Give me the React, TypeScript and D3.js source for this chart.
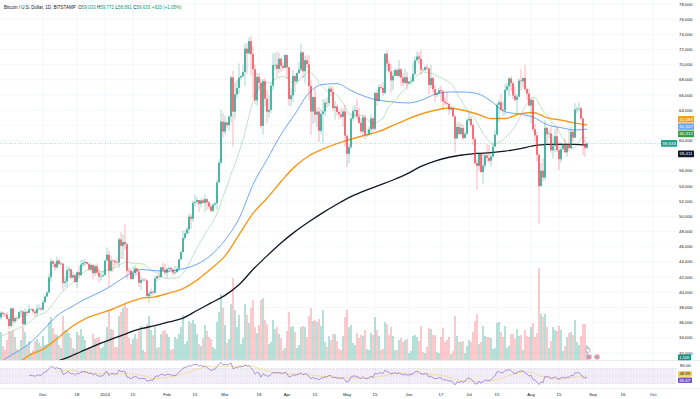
import * as d3 from 'd3';

const PANE_RIGHT = 676;
const PRICE_BOTTOM = 360;
const RSI_TOP = 361;
const RSI_BOTTOM = 388;
const UP = '#089981';
const DOWN = '#f23645';

// daily candles, BITSTAMP BTC/USD, 2023-11-10 .. 2024-08-29
const firstDay = '2023-11-10';

const opens = [
  // Nov
  36690, 37310, 37130, 37060, 36480, 35550, 37880, 36160, 36590, 36580, 37380, 37470, 35810, 37420, 37290, 37720, 37800, 37480, 37250, 37830, 37860,
  // Dec
  37720, 38690, 39460, 39970, 41990, 44080, 43760, 43290, 44170, 43720, 43790, 41240, 41450, 42890, 43020, 41940, 42260, 41360, 42650, 42270, 43660, 43860, 43990, 43740, 43020, 43610, 42520, 43440, 42580, 42070, 42140,
  // Jan
  42280, 44180, 44950, 42840, 44180, 44160, 43970, 43930, 46970, 46120, 46630, 46340, 42850, 42840, 41730, 42510, 43150, 42740, 41260, 41620, 41660, 41580, 39510, 39840, 40080, 39940, 41820, 42120, 42030, 43300, 42940,
  // Feb
  42580, 43080, 43190, 43000, 42580, 42660, 43090, 44330, 45300, 47150, 47770, 48290, 49960, 49700, 51800, 51910, 52160, 51660, 52120, 51780, 52280, 51850, 51300, 50740, 51570, 51730, 54480, 57080, 62500,
  // Mar
  61180, 62410, 62030, 63170, 68330, 63800, 66100, 66930, 68300, 68500, 69020, 72120, 71480, 73100, 71390, 69400, 65300, 68390, 67600, 61930, 67840, 65500, 63800, 64040, 67230, 69960, 69990, 69450, 70780, 69850, 69580,
  // Apr
  71280, 69650, 65470, 65960, 68510, 67840, 68900, 69360, 71620, 69140, 70590, 70060, 67190, 63820, 65740, 63420, 63810, 61280, 63510, 63840, 64990, 64940, 66840, 66410, 64280, 64500, 63770, 63460, 63120, 63840,
  // May
  60640, 58250, 59120, 62890, 63890, 64030, 63160, 62330, 61190, 63050, 60790, 60820, 61480, 62920, 61550, 66270, 65230, 67050, 66940, 66280, 71450, 70140, 69120, 67930, 68540, 69290, 68510, 69390, 68300, 67610, 68350,
  // Jun
  67520, 67760, 67820, 68800, 70570, 71080, 70760, 69340, 69310, 69650, 69510, 67320, 68240, 66760, 66010, 66190, 66640, 66490, 65150, 64960, 64830, 64100, 64250, 63180, 60280, 61800, 60860, 61670, 60320, 60890,
  // Jul
  62680, 62850, 62030, 60200, 57040, 56660, 58230, 55850, 56700, 58040, 57720, 57340, 57890, 59200, 60790, 64720, 65040, 64090, 63990, 66680, 67150, 68190, 67550, 65930, 65370, 65780, 67910, 67810, 68250, 66780, 66190,
  // Aug
  64620, 65350, 61500, 60680, 58120, 53990, 56030, 55120, 61680, 60840, 60920, 58710, 59330, 60580, 58740, 57540, 58870, 59480, 58450, 59500, 59010, 61160, 60380, 64090, 64180, 64250, 62880, 59500, 59033,
];

const highs = [
  37530, 37410, 37220, 37420, 36760, 37980, 37930, 36840, 36850, 37520, 37760, 37650, 37860, 37650, 38420, 37890, 37830, 37590, 38390, 38420, 38150,
  38960, 39680, 40200, 42420, 44440, 44300, 44050, 44700, 44370, 44040, 43800, 42090, 43430, 43400, 43080, 42720, 42430, 42750, 43480, 44260, 44290, 44380, 44040, 43940, 43800, 43650, 43680, 43800, 43140, 42600, 42880,
  44200, 45900, 45500, 44770, 44350, 44240, 44480, 47230, 47900, 47650, 48970, 46500, 43250, 43080, 43390, 43580, 43200, 42930, 42180, 41870, 41880, 41680, 40120, 40530, 40270, 42200, 42200, 42800, 43320, 43880, 43740,
  43290, 43470, 43380, 43120, 43500, 43410, 44380, 45600, 48170, 48150, 48570, 50350, 50360, 52080, 52820, 52570, 52200, 52370, 52480, 52980, 52370, 52000, 51550, 51690, 51950, 54900, 57550, 64000, 63650,
  63200, 62420, 63230, 68550, 69200, 67650, 67990, 70170, 68620, 70000, 72800, 72900, 73620, 73750, 72430, 70000, 68880, 68930, 68100, 68100, 68200, 66600, 65950, 67600, 71500, 71560, 71720, 71550, 70920, 70340, 71340,
  71290, 69700, 66900, 69290, 68720, 69000, 70320, 72730, 71750, 71170, 71260, 71220, 67930, 65840, 66880, 64360, 64480, 64130, 65400, 65440, 65690, 67220, 67200, 67080, 65250, 64790, 63920, 64330, 64200, 64720,
  60800, 59600, 63320, 64500, 64650, 65500, 64400, 62990, 63400, 63450, 61480, 61820, 63450, 63100, 66450, 66700, 67420, 67430, 67700, 71500, 71950, 70610, 70080, 69240, 69550, 69540, 70600, 69540, 68880, 69480, 69000,
  67840, 68400, 70280, 71050, 71750, 71650, 71950, 69520, 69890, 70150, 69560, 69990, 68450, 67300, 66400, 66990, 67200, 66600, 65700, 66450, 65050, 64520, 64500, 63350, 62350, 62440, 62280, 62180, 61200, 63000,
  63800, 63250, 62280, 60500, 57500, 58480, 58370, 58240, 58300, 59480, 59420, 58560, 59860, 61400, 64900, 65360, 66100, 65150, 67450, 67600, 68350, 68480, 67800, 67100, 66150, 68200, 69400, 68300, 70000, 66980, 66830,
  65600, 65600, 62200, 61100, 58300, 57040, 57700, 62730, 61800, 61450, 61850, 60700, 61550, 61780, 59850, 59800, 59650, 60250, 59600, 61400, 61800, 61400, 64950, 64500, 65000, 64500, 63200, 60250, 59772,
];

const lows = [
  36340, 36720, 36750, 36330, 35100, 35370, 35650, 35900, 36200, 36400, 36740, 35630, 35660, 36880, 37250, 37610, 37150, 36730, 36880, 37600, 37510,
  37630, 38650, 39280, 39900, 41400, 43340, 42850, 43100, 43600, 43570, 40220, 40680, 40600, 41820, 41670, 41690, 41260, 40530, 41850, 42200, 43320, 43420, 43600, 42780, 42750, 41680, 42110, 42320, 41320, 41550, 41970,
  42200, 44160, 40760, 42640, 42650, 43400, 43590, 43200, 44400, 44400, 45600, 41750, 42440, 41720, 41720, 42080, 42200, 40700, 40270, 41450, 41500, 39440, 38540, 39480, 39550, 39830, 41400, 41640, 41800, 42690, 42300,
  41880, 42600, 42880, 42230, 42270, 42580, 42780, 44300, 45250, 46850, 47700, 47700, 48370, 49300, 51330, 51630, 50620, 51180, 51710, 50600, 50850, 50970, 50560, 50580, 51300, 50900, 54450, 56700, 60400,
  60780, 61600, 61350, 62380, 59200, 62800, 65600, 66180, 67980, 68250, 67200, 68800, 71340, 68600, 65630, 64800, 64600, 66640, 61600, 60780, 64550, 62270, 63000, 63600, 66600, 69260, 68350, 68900, 69050, 69350, 69550,
  68150, 64550, 64500, 65080, 66400, 67450, 68800, 69060, 68250, 67520, 69600, 65280, 60800, 62180, 62330, 61720, 59760, 60830, 59600, 63200, 64280, 64500, 65880, 63870, 62780, 63350, 62800, 62800, 61800, 59180,
  56500, 56950, 58800, 62600, 62990, 62750, 62200, 60900, 60650, 60200, 60480, 60630, 60800, 61150, 61350, 64600, 65120, 66620, 65860, 66080, 69180, 68870, 66300, 66650, 68520, 68450, 68250, 67200, 67150, 67400, 66700,
  67450, 67330, 67650, 68580, 70400, 70140, 68600, 69220, 69140, 69230, 66100, 66900, 66300, 65080, 65700, 66080, 65150, 64070, 64700, 64500, 63400, 63940, 63150, 58400, 60250, 60700, 60650, 60080, 60300, 60710,
  62450, 61780, 59430, 56780, 53500, 56040, 55780, 54300, 56320, 57210, 57050, 56600, 57760, 59100, 60650, 62400, 63900, 63250, 63300, 66480, 65800, 66550, 65450, 65130, 63460, 65730, 66650, 67020, 66500, 65300, 64520,
  62300, 61200, 59850, 57200, 49050, 53950, 54600, 54750, 59600, 60270, 58400, 57650, 58500, 58450, 56100, 57100, 58780, 58400, 57860, 58600, 58850, 59800, 60350, 63600, 63800, 62800, 58100, 57860, 58891,
];

const closes = [
  37310, 37130, 37060, 36480, 35550, 37880, 36160, 36590, 36580, 37380, 37470, 35810, 37420, 37290, 37720, 37800, 37480, 37250, 37830, 37860, 37720,
  38690, 39460, 39970, 41990, 44080, 43760, 43290, 44170, 43720, 43790, 41240, 41450, 42890, 43020, 41940, 42260, 41360, 42650, 42270, 43660, 43860, 43990, 43740, 43020, 43610, 42520, 43440, 42580, 42070, 42140, 42280,
  44180, 44950, 42840, 44180, 44160, 43970, 43930, 46970, 46120, 46630, 46340, 42850, 42840, 41730, 42510, 43150, 42740, 41260, 41620, 41660, 41580, 39510, 39840, 40080, 39940, 41820, 42120, 42030, 43300, 42940, 42580,
  43080, 43190, 43000, 42580, 42660, 43090, 44330, 45300, 47150, 47770, 48290, 49960, 49700, 51800, 51910, 52160, 51660, 52120, 51780, 52280, 51850, 51300, 50740, 51570, 51730, 54480, 57080, 62500, 61180,
  62410, 62030, 63170, 68330, 63800, 66100, 66930, 68300, 68500, 69020, 72120, 71480, 73100, 71390, 69400, 65300, 68390, 67600, 61930, 67840, 65500, 63800, 64040, 67230, 69960, 69990, 69450, 70780, 69850, 69580, 71280,
  69650, 65470, 65960, 68510, 67840, 68900, 69360, 71620, 69140, 70590, 70060, 67190, 63820, 65740, 63420, 63810, 61280, 63510, 63840, 64990, 64940, 66840, 66410, 64280, 64500, 63770, 63460, 63120, 63840, 60640,
  58250, 59120, 62890, 63890, 64030, 63160, 62330, 61190, 63050, 60790, 60820, 61480, 62920, 61550, 66270, 65230, 67050, 66940, 66280, 71450, 70140, 69120, 67930, 68540, 69290, 68510, 69390, 68300, 67610, 68350, 67520,
  67760, 67820, 68800, 70570, 71080, 70760, 69340, 69310, 69650, 69510, 67320, 68240, 66760, 66010, 66190, 66640, 66490, 65150, 64960, 64830, 64100, 64250, 63180, 60280, 61800, 60860, 61670, 60320, 60890, 62680,
  62850, 62030, 60200, 57040, 56660, 58230, 55850, 56700, 58040, 57720, 57340, 57890, 59200, 60790, 64720, 65040, 64090, 63990, 66680, 67150, 68190, 67550, 65930, 65370, 65780, 67910, 67810, 68250, 66780, 66190, 64620,
  65350, 61500, 60680, 58120, 53990, 56030, 55120, 61680, 60840, 60920, 58710, 59330, 60580, 58740, 57540, 58870, 59480, 58450, 59500, 59010, 61160, 60380, 64090, 64180, 64250, 62880, 59500, 59033, 59633,
];

const volumes = [
  2800, 1400, 1000, 2000, 2900, 2800, 3000, 2300, 1100, 1000, 2000, 3300, 2800, 1500, 1900, 700, 1000, 1900, 2100, 1700, 1400,
  2400, 1500, 1600, 3800, 4300, 3200, 2600, 2500, 1500, 1200, 4400, 3000, 3000, 2700, 2200, 1200, 1100, 2800, 2500, 3100, 2400, 2000, 1100, 1300, 1200, 2600, 2100, 2200, 2300, 1200, 1300,
  1800, 3300, 5000, 3100, 3000, 1300, 1300, 4400, 4800, 5200, 5600, 5200, 2200, 1600, 2100, 2600, 2100, 3000, 3400, 1000, 800, 3600, 4400, 3000, 2500, 3300, 1200, 1300, 2600, 2900, 3000,
  2600, 2300, 1000, 1100, 2300, 2100, 2600, 3300, 4500, 1600, 1900, 3900, 3700, 4000, 3600, 2600, 1600, 1400, 2200, 3500, 2900, 2300, 2100, 1300, 1100, 3800, 4800, 6600, 5200,
  3500, 1700, 2100, 5600, 8200, 5000, 3300, 4500, 1600, 2200, 5600, 4500, 3700, 5200, 6000, 3300, 2700, 3500, 6000, 6200, 4000, 3600, 1600, 1800, 4000, 3100, 3300, 2600, 2200, 1000, 1200,
  2900, 4800, 3300, 3400, 2800, 1200, 1500, 3300, 3400, 3300, 2300, 4400, 5200, 3900, 4000, 3800, 4100, 3400, 5000, 1800, 1300, 2400, 2000, 2600, 2600, 1900, 1100, 1000, 2400, 4300,
  5000, 3300, 3500, 1700, 1500, 2700, 2200, 2500, 2400, 3000, 1100, 1000, 2700, 2500, 4300, 3000, 2400, 1000, 1100, 3800, 3600, 2500, 3300, 2400, 1000, 1000, 2000, 2200, 1800, 2000, 2100,
  700, 900, 2400, 2500, 2300, 1900, 3400, 800, 700, 1300, 3200, 3100, 2500, 2500, 800, 700, 2300, 3200, 1800, 2000, 2300, 600, 900, 4400, 2400, 1800, 1800, 1900, 700, 1400,
  2000, 1800, 2800, 3900, 4600, 1600, 1800, 3400, 2400, 2300, 2300, 2200, 1100, 1200, 3700, 3800, 2800, 2300, 3400, 1200, 1400, 2600, 2600, 2100, 3100, 2400, 2500, 1000, 3000, 2400, 2300,
  3300, 3700, 2300, 2700, 9200, 4600, 4300, 4600, 3300, 1200, 1900, 3300, 3000, 2900, 3400, 3000, 900, 1400, 2300, 2700, 2800, 2500, 4000, 1800, 1500, 2400, 3600, 3600, 1500,
];

// moving averages, weekly
const maDates = [
  '2023-11-10', '2023-11-17', '2023-11-24', '2023-12-01', '2023-12-08', '2023-12-15', '2023-12-22', '2023-12-29',
  '2024-01-05', '2024-01-12', '2024-01-19', '2024-01-26', '2024-02-02', '2024-02-09', '2024-02-16', '2024-02-23',
  '2024-03-01', '2024-03-08', '2024-03-15', '2024-03-22', '2024-03-29', '2024-04-05', '2024-04-12', '2024-04-19',
  '2024-04-26', '2024-05-03', '2024-05-10', '2024-05-17', '2024-05-24', '2024-05-31', '2024-06-07', '2024-06-14',
  '2024-06-21', '2024-06-28', '2024-07-05', '2024-07-12', '2024-07-19', '2024-07-26', '2024-08-02', '2024-08-09',
  '2024-08-16', '2024-08-23', '2024-08-29',
];
const ma50 = [
  30900, 32000, 33200, 35000, 36900, 38050, 39100, 39950, 41000, 42200, 43000, 42850, 42800, 43100, 43700, 44900,
  46900, 49700, 54200, 57500, 60800, 63500, 66300, 67400, 67500, 66600, 65800, 65300, 65100, 64950, 65300, 66100,
  66400, 66400, 66200, 65200, 63800, 63500, 63100, 62100, 61700, 61400, 61507,
];
const ma100 = [
  29300, 30300, 31700, 32500, 33900, 35400, 36500, 37200, 37800, 38600, 39200, 39400, 39900, 40500, 41600, 43100,
  44800, 47600, 50400, 52400, 54600, 56600, 58000, 58900, 59600, 60200, 60700, 61200, 62000, 62800, 63500, 64000,
  64300, 64000, 63500, 62900, 62900, 63500, 63700, 63000, 62700, 62300, 62089,
];
const ma200 = [
  null, null, null, null, 30900, 31600, 32400, 33200, 33900, 34600, 35200, 35600, 36100, 36600, 37600, 38600,
  39600, 41000, 43000, 44800, 46500, 48000, 49300, 50500, 51600, 52600, 53400, 54100, 54800, 55600, 56600, 57300,
  57800, 58100, 58300, 58400, 58600, 58900, 59300, 59500, 59500, 59500, 59411,
];
// start of the 20-day average, before 20 closes are on screen
const ma20LeadDates = ['2023-11-10', '2023-11-15', '2023-11-20', '2023-11-25'];
const ma20Lead = [34200, 34800, 35400, 36200];

const priceTicks = [
  78000, 76000, 74000, 72000, 70000, 68000, 66000, 64000, 62000, 60000, 58000, 56000,
  54000, 52000, 50000, 48000, 46000, 44000, 42000, 40000, 38000, 36000, 34000, 32000,
];
const timeTickDates = [
  '2023-12-01', '2023-12-18', '2024-01-01', '2024-01-15', '2024-02-01', '2024-02-15', '2024-03-01',
  '2024-03-18', '2024-04-01', '2024-04-15', '2024-05-01', '2024-05-15', '2024-06-01', '2024-06-17',
  '2024-07-01', '2024-07-15', '2024-08-01', '2024-08-15', '2024-09-01', '2024-09-16', '2024-10-01',
];
const timeTickLabels = [
  'Dec', '18', '2024', '15', 'Feb', '15', 'Mar', '18', 'Apr', '15', 'May',
  '15', 'Jun', '17', 'Jul', '15', 'Aug', '15', 'Sep', '16', 'Oct',
];
const rsiLabels = ['48.89', '45.47'];

const parse = d3.utcParse('%Y-%m-%d');
const fmt = d3.format(',.0f');

function sma(values: number[], n: number) {
  return values.map((_, i) => (i < n - 1 ? null : d3.mean(values.slice(i - n + 1, i + 1)) as number));
}

function rsi(values: number[], n: number) {
  const out: (number | null)[] = values.map(() => null);
  let gain = 0;
  let loss = 0;
  for (let i = 1; i <= n; i++) {
    const d = values[i] - values[i - 1];
    if (d > 0) gain += d; else loss -= d;
  }
  gain /= n;
  loss /= n;
  out[n] = 100 - 100 / (1 + gain / loss);
  for (let i = n + 1; i < values.length; i++) {
    const d = values[i] - values[i - 1];
    gain = (gain * (n - 1) + Math.max(d, 0)) / n;
    loss = (loss * (n - 1) + Math.max(-d, 0)) / n;
    out[i] = 100 - 100 / (1 + gain / loss);
  }
  return out;
}

export default function App() {
  const day0 = parse(firstDay) as Date;
  const dates = closes.map((_, i) => d3.utcDay.offset(day0, i));

  const x = d3.scaleUtc()
    .domain([day0, parse('2024-10-01') as Date])
    .range([1, 653]);
  const y = d3.scaleLinear().domain([32000, 78000]).range([353, 4]);
  const yVol = d3.scaleLinear().domain([0, 10000]).range([PRICE_BOTTOM, 260]);
  const yRsi = d3.scaleLinear().domain([20, 80]).range([387, 365]);

  type P = { d: Date; v: number | null };
  const maLine = d3.line<P>()
    .defined(p => p.v != null)
    .x(p => x(p.d))
    .y(p => y(p.v as number))
    .curve(d3.curveMonotoneX);
  const dailyLine = d3.line<P>()
    .defined(p => p.v != null)
    .x(p => x(p.d))
    .y(p => y(p.v as number));
  const rsiLine = d3.line<P>()
    .defined(p => p.v != null)
    .x(p => x(p.d))
    .y(p => yRsi(p.v as number));

  const weekly = (vals: (number | null)[]) => vals.map((v, i) => ({ d: parse(maDates[i]) as Date, v }));

  const ma20 = sma(closes, 20);
  const ma20Points: P[] = [
    ...ma20Lead.map((v, i) => ({ d: parse(ma20LeadDates[i]) as Date, v })),
    ...ma20.map((v, i) => ({ d: dates[i], v })).filter(p => p.v != null),
  ];

  const rsiVals = rsi(closes, 14);
  const rsiMa = rsiVals.map((_, i) => {
    const w = rsiVals.slice(Math.max(0, i - 13), i + 1);
    return i < 27 ? null : (d3.mean(w as number[]) as number);
  });

  const last = closes.length - 1;

  // the last-price tag keeps its place, the MA tags are pushed away from it
  const priceY = y(closes[last]);
  const tags = [
    { v: ma100[ma100.length - 1], fill: '#f59d1f' },
    { v: ma50[ma50.length - 1], fill: '#6ea6ee' },
    { v: ma20[last] as number, fill: '#3c9c45' },
    { v: ma200[ma200.length - 1] as number, fill: '#131722' },
  ].map(t => ({ ...t, y: y(t.v) }));
  const upper = tags.filter(t => t.y <= priceY).sort((a, b) => b.y - a.y);
  const lower = tags.filter(t => t.y > priceY).sort((a, b) => a.y - b.y);
  let edge = priceY;
  upper.forEach((t, i) => { t.y = Math.min(t.y, edge - (i === 0 ? 9.5 : 7.3)); edge = t.y; });
  edge = priceY;
  lower.forEach((t, i) => { t.y = Math.max(t.y, edge + (i === 0 ? 10.5 : 7.3)); edge = t.y; });

  const volTagY = 357.4;
  const tickShown = (t: number) =>
    tags.every(l => Math.abs(y(t) - l.y) > 5) && Math.abs(y(t) - volTagY) > 4.2;

  const rsiTagY = [yRsi(+rsiLabels[0]), yRsi(+rsiLabels[1])];
  if (rsiTagY[1] - rsiTagY[0] < 6) {
    const m = (rsiTagY[0] + rsiTagY[1]) / 2;
    rsiTagY[0] = m - 3.2;
    rsiTagY[1] = m + 3.2;
  }
  const rsiTags = [
    { y: rsiTagY[0], t: rsiLabels[0], fill: '#f3d35a', color: '#131722' },
    { y: rsiTagY[1], t: rsiLabels[1], fill: '#7e57c2', color: '#fff' },
  ];

  const bodyW = 1.3;
  const font = 'Liberation Sans, Arial, sans-serif';
  const isUp = (i: number) => closes[i] >= opens[i];

  return (
    <svg width={700} height={399} style={{ position: 'absolute', left: 0, top: 0, background: '#fff' }} fontFamily={font}>
      <defs>
        <clipPath id="pricePane"><rect x={0} y={0} width={PANE_RIGHT} height={PRICE_BOTTOM} /></clipPath>
        <clipPath id="rsiPane"><rect x={0} y={RSI_TOP} width={PANE_RIGHT} height={RSI_BOTTOM - RSI_TOP} /></clipPath>
      </defs>

      {/* grid */}
      {priceTicks.map(t => (
        <line key={t} x1={0} x2={PANE_RIGHT} y1={y(t)} y2={y(t)} stroke="#f0f3fa" strokeWidth={0.7} />
      ))}
      {timeTickDates.map(t => (
        <line key={t} x1={x(parse(t) as Date)} x2={x(parse(t) as Date)} y1={0} y2={RSI_BOTTOM} stroke="#f0f3fa" strokeWidth={0.7} />
      ))}

      <g clipPath="url(#pricePane)">
        {/* volume */}
        {volumes.map((v, i) => (
          <rect key={i} x={x(dates[i]) - bodyW / 2} width={bodyW} y={yVol(v)} height={PRICE_BOTTOM - yVol(v)}
            fill={isUp(i) ? 'rgba(8,153,129,0.45)' : 'rgba(242,54,69,0.42)'} />
        ))}

        {/* moving averages */}
        <path d={dailyLine(ma20Points) as string} fill="none" stroke="#a8d5aa" strokeWidth={0.7} />
        <path d={maLine(weekly(ma50)) as string} fill="none" stroke="#5b9cf6" strokeWidth={0.9} />
        <path d={maLine(weekly(ma100)) as string} fill="none" stroke="#f7991c" strokeWidth={1.4} />
        <path d={maLine(weekly(ma200)) as string} fill="none" stroke="#131722" strokeWidth={1.3} />

        {/* candles */}
        {closes.map((c, i) => {
          const cx = x(dates[i]);
          const col = isUp(i) ? UP : DOWN;
          const top = y(Math.max(c, opens[i]));
          const bot = y(Math.min(c, opens[i]));
          return (
            <g key={i}>
              <line x1={cx} x2={cx} y1={y(highs[i])} y2={y(lows[i])} stroke={col} strokeWidth={0.5} strokeOpacity={0.75} />
              <rect x={cx - bodyW / 2} width={bodyW} y={top} height={Math.max(bot - top, 0.6)} fill={col} />
            </g>
          );
        })}

        {/* last price line */}
        <line x1={0} x2={661} y1={priceY} y2={priceY} stroke={UP} strokeWidth={0.5} strokeDasharray="1,1.5" strokeOpacity={0.7} />

        {/* event markers */}
        <circle cx={588} cy={350} r={2.3} fill="#fff" stroke="#787b86" strokeWidth={0.5} />
        <text x={588} y={351.4} fontSize={3.2} textAnchor="middle" fill="#787b86">?</text>
        <circle cx={589} cy={357} r={2.3} fill="#f7b3b8" stroke={DOWN} strokeWidth={0.5} />
        <circle cx={589} cy={357} r={0.9} fill="#5b9cf6" />
        <circle cx={597} cy={357} r={2.3} fill="#f7b3b8" stroke={DOWN} strokeWidth={0.5} />
        <circle cx={597} cy={357} r={0.9} fill="#5b9cf6" />
      </g>

      {/* pane separators */}
      <line x1={0} x2={700} y1={PRICE_BOTTOM + 0.5} y2={PRICE_BOTTOM + 0.5} stroke="#e0e3eb" strokeWidth={0.7} />
      <line x1={0} x2={700} y1={RSI_BOTTOM + 0.5} y2={RSI_BOTTOM + 0.5} stroke="#e0e3eb" strokeWidth={0.5} />

      {/* RSI pane */}
      <rect x={0} y={yRsi(70)} width={PANE_RIGHT} height={yRsi(30) - yRsi(70)} fill="rgba(126,87,194,0.1)" />
      {[70, 50, 30].map(v => (
        <line key={v} x1={0} x2={PANE_RIGHT} y1={yRsi(v)} y2={yRsi(v)} stroke="#9598a1"
          strokeWidth={0.5} strokeDasharray="1.5,1.5" strokeOpacity={v === 50 ? 0.35 : 0.7} />
      ))}
      <g clipPath="url(#rsiPane)">
        <path d={rsiLine(rsiMa.map((v, i) => ({ d: dates[i], v }))) as string} fill="none" stroke="#f3d77a" strokeWidth={0.7} />
        <path d={rsiLine(rsiVals.map((v, i) => ({ d: dates[i], v }))) as string} fill="none" stroke="#7e57c2" strokeWidth={0.6} />
      </g>

      {/* price scale */}
      {priceTicks.filter(tickShown).map(t => (
        <text key={t} x={679} y={y(t)} dy="0.35em" fontSize={4.4} fill="#131722">{fmt(t)}</text>
      ))}
      <rect x={678} y={volTagY - 2.8} width={13} height={5.6} fill={UP} rx={0.6} />
      <text x={679.3} y={volTagY} dy="0.35em" fontSize={4} fill="#fff">{(volumes[last] / 1000).toFixed(2)}K</text>
      {tags.map((l, i) => (
        <g key={i}>
          <rect x={678} y={l.y - 3.3} width={16} height={6.6} fill={l.fill} rx={0.6} />
          <text x={679.4} y={l.y} dy="0.35em" fontSize={4.4} fill="#fff">{fmt(l.v)}</text>
        </g>
      ))}
      <rect x={661} y={priceY - 3.3} width={16} height={6.6} fill="#22a38b" rx={0.6} />
      <text x={662.4} y={priceY} dy="0.35em" fontSize={4.4} fill="#fff">{fmt(closes[last])}</text>

      <text x={680} y={365} dy="0.35em" fontSize={4.3} fill="#131722">80.00</text>
      {rsiTags.map((l, i) => (
        <g key={i}>
          <rect x={678} y={l.y - 2.8} width={14} height={5.6} fill={l.fill} rx={0.6} />
          <text x={679.5} y={l.y} dy="0.35em" fontSize={4.2} fill={l.color}>{l.t}</text>
        </g>
      ))}

      {/* time scale */}
      {timeTickDates.map((t, i) => (
        <text key={t} x={x(parse(t) as Date)} y={394.5} dy="0.35em" fontSize={4.3} textAnchor="middle" fill="#131722">
          {timeTickLabels[i]}
        </text>
      ))}

      {/* legend */}
      <text x={4} y={7} dy="0.35em" fontSize={4.5} fill="#131722">
        Bitcoin / U.S. Dollar, 1D, BITSTAMP
        <tspan dx={2.5}>O</tspan><tspan fill={UP}>{fmt(opens[last])}</tspan>
        <tspan dx={1.5}>H</tspan><tspan fill={UP}>{fmt(highs[last])}</tspan>
        <tspan dx={1.5}>L</tspan><tspan fill={UP}>{fmt(lows[last])}</tspan>
        <tspan dx={1.5}>C</tspan><tspan fill={UP}>{fmt(closes[last])}</tspan>
        <tspan dx={1.5} fill={UP}>+620 (+1.05%)</tspan>
      </text>
    </svg>
  );
}
